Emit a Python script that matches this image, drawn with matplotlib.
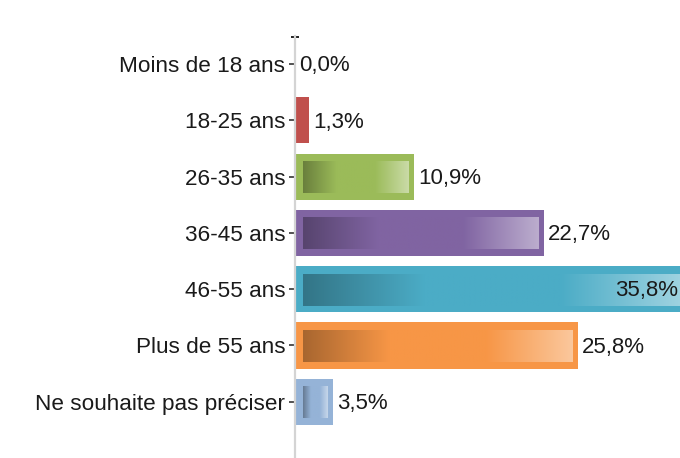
import numpy as np
import matplotlib
matplotlib.use("Agg")
import matplotlib.pyplot as plt
from matplotlib.colors import to_rgb

plt.rcParams['font.family'] = ['Liberation Sans', 'DejaVu Sans']

# Age groups and their share of respondents (%)
categories = ["Moins de 18 ans", "18-25 ans", "26-35 ans", "36-45 ans",
              "46-55 ans", "Plus de 55 ans", "Ne souhaite pas préciser"]
values = [0.0, 1.3, 10.9, 22.7, 35.8, 25.8, 3.5]
labels = ["0,0%", "1,3%", "10,9%", "22,7%", "35,8%", "25,8%", "3,5%"]
colors = ["#C0504D", "#C0504D", "#9BBB59", "#8064A2", "#4BACC6", "#F79646", "#95B3D7"]

W, H, DPI = 680, 458, 100
fig = plt.figure(figsize=(W / DPI, H / DPI), dpi=DPI)
ax_left, ax_top = 295, 36
ax = fig.add_axes([ax_left / W, 0, 1 - ax_left / W, 1 - ax_top / H])

XMAX = 35.13
px_x = (W - ax_left) / XMAX          # pixels per percent
px_y = (H - ax_top) / 7.5            # pixels per category
bar_h = 0.82
inset_x = 7.5 / px_x
inset_y = 7.5 / px_y

def gradient(base, n=256):
    base = np.array(to_rgb(base))
    dark = base * 0.68
    light = base + (1 - base) * 0.47
    out = np.empty((1, n, 3))
    for i, f in enumerate(np.linspace(0, 1, n)):
        if f < 0.32:
            c = dark + (base - dark) * (f / 0.32)
        elif f < 0.68:
            c = base
        else:
            c = base + (light - base) * ((f - 0.68) / 0.32)
        out[0, i] = c
    return out

ypos = np.arange(len(categories))
for y, v, c, lab in zip(ypos, values, colors, labels):
    if v > 0:
        ax.barh(y, v, height=bar_h, color=c, edgecolor='none', zorder=2)
        if v * px_x > 20:
            x0, x1 = inset_x, v - inset_x * 0.8
            y0, y1 = y - bar_h / 2 + inset_y, y + bar_h / 2 - inset_y * 0.9
            ax.imshow(gradient(c), extent=(x0, x1, y1, y0), aspect='auto',
                      interpolation='bilinear', zorder=3)
    if v > XMAX:
        ax.text(XMAX - 1.5 / px_x, y + 0.03, lab, ha='right', va='center',
                fontsize=16, color='#1a1a1a', zorder=4)
    else:
        ax.text(v + 4 / px_x, y + 0.03, lab, ha='left', va='center',
                fontsize=16, color='#1a1a1a', zorder=4)

ax.set_xlim(0, XMAX)
ax.set_ylim(7.0, -0.5)
ax.set_yticks(ypos)
ax.set_yticklabels(categories, fontsize=16.2, color='#1a1a1a')
for t in ax.get_yticklabels():
    t.set_y(t.get_position()[1])
ax.set_yticks([-0.49], minor=True)
ax.tick_params(axis='y', which='major', length=4.5, width=1.1, color='#222222', pad=2.5)
ax.tick_params(axis='y', which='minor', length=6, width=1.4, color='#222222', direction='inout')
ax.set_xticks([])
for s in ['top', 'right', 'bottom']:
    ax.spines[s].set_visible(False)
ax.spines['left'].set_color('#d4d4d4')
ax.spines['left'].set_linewidth(1.6)
ax.set_facecolor('white')

fig.savefig("out.png", dpi=DPI, facecolor='white')
